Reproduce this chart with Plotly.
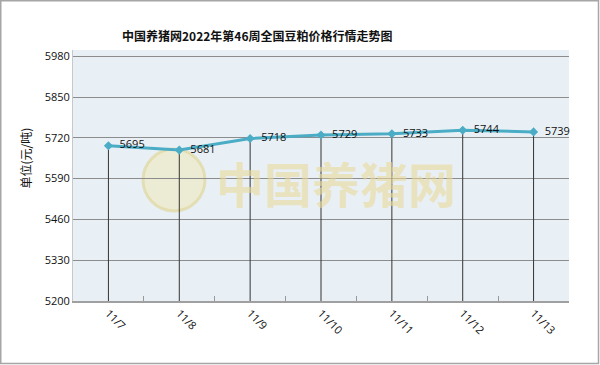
import plotly.graph_objects as go

categories = ["11/7", "11/8", "11/9", "11/10", "11/11", "11/12", "11/13"]
prices = [5695, 5681, 5718, 5729, 5733, 5744, 5739]
y_ticks = [5200, 5330, 5460, 5590, 5720, 5850, 5980]
y_min, y_max = 5200, 6000

W, H = 600, 365
L, R, T, B = 73, 31, 50, 64
pw, ph = W - L - R, H - T - B


def px(x):
    return (x - L) / pw


def py(y):
    return (H - B - y) / ph


fig = go.Figure()
fig.add_trace(go.Scatter(
    x=categories, y=prices, mode="lines+markers+text",
    text=["\u00a0\u00a0" + str(v) for v in prices], textposition="middle right",
    textfont=dict(family="Open Sans", size=11, color="#111"),
    line=dict(color="#4BACC6", width=3),
    marker=dict(symbol="diamond", size=7, color="#4BACC6"),
    error_y=dict(type="data", symmetric=False, array=[0] * len(prices),
                 arrayminus=[v - y_min for v in prices],
                 color="#333333", thickness=1, width=0),
    cliponaxis=False, showlegend=False, hoverinfo="skip",
))

# watermark
fig.add_shape(type="circle", xref="paper", yref="paper",
              x0=px(143), x1=px(205), y0=py(211), y1=py(149),
              fillcolor="rgba(240,230,175,0.45)", line=dict(color="rgba(220,210,140,0.55)", width=3),
              layer="below")
fig.add_annotation(text="<b>中国养猪网</b>", xref="paper", yref="paper",
                   x=px(336), y=py(182), showarrow=False,
                   font=dict(family="Noto Sans CJK SC", size=48, color="rgba(234,218,155,0.6)"))

fig.add_annotation(text="<b>中国养猪网2022年第46周全国豆粕价格行情走势图</b>", xref="paper", yref="paper",
                   x=px(257), y=py(25), showarrow=False,
                   font=dict(family="Noto Sans CJK SC", size=12, color="#111"))
fig.add_annotation(text="单位(元/吨)", xref="paper", yref="paper", textangle=-90,
                   x=px(14), y=py(158), showarrow=False,
                   font=dict(family="Noto Sans CJK SC", size=12, color="#111"))

# outer border
fig.add_shape(type="rect", xref="paper", yref="paper",
              x0=px(0.75), x1=px(598.5), y0=py(363.5), y1=py(0.75),
              line=dict(color="#A6A6A6", width=1.5), fillcolor="rgba(0,0,0,0)")

fig.update_layout(
    width=W, height=H, margin=dict(l=L, r=R, t=T, b=B),
    paper_bgcolor="white", plot_bgcolor="#E9F0F5",
    xaxis=dict(type="category", range=[-0.5, 6.5], tickangle=45,
               ticks="inside", tickson="boundaries", ticklen=5, tickcolor="#999",
               showgrid=False, showline=True, linecolor="#A0A0A0", linewidth=1.5,
               tickfont=dict(family="Open Sans", size=11, color="#111")),
    yaxis=dict(range=[y_min, y_max], tickvals=y_ticks, showgrid=True,
               gridcolor="#8C8C8C", gridwidth=1, zeroline=False,
               showline=True, linecolor="#C8C8C8", linewidth=1, ticks="",
               tickfont=dict(family="Open Sans", size=11, color="#111")),
)

fig.write_html("out.html", config={"displayModeBar": False},
               post_script="document.body.style.margin='0';document.body.style.overflow='hidden';")
